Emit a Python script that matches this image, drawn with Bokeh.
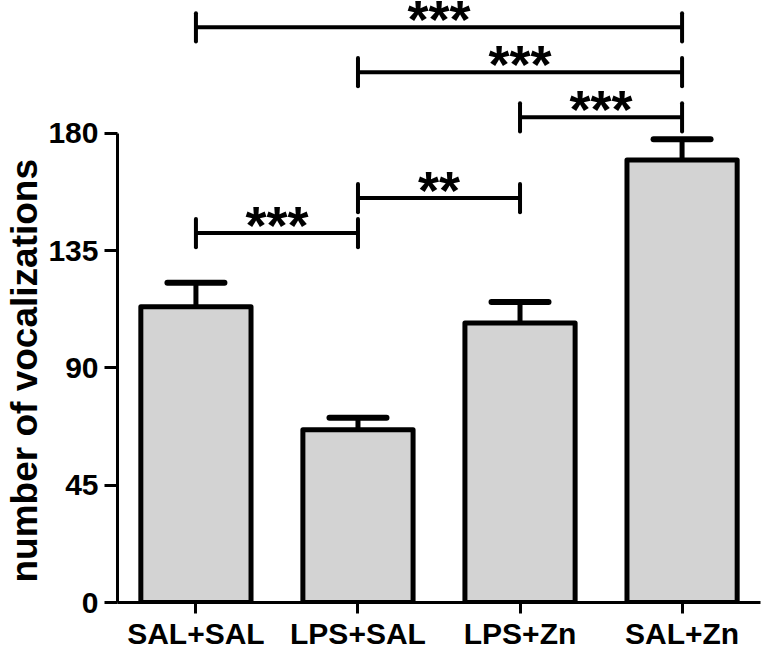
import math
from bokeh.plotting import figure
from bokeh.models import (FactorRange, Range1d, FixedTicker, Whisker,
                          TeeHead, ColumnDataSource, Title)
from bokeh.embed import file_html
from bokeh.resources import INLINE
from bokeh.core.properties import value

# ---- data ----
categories = ["SAL+SAL", "LPS+SAL", "LPS+Zn", "SAL+Zn"]
means = [113.4, 66.3, 107.2, 169.7]
sem = [9.2, 4.6, 8.1, 8.0]
y_ticks = [0, 45, 90, 135, 180]
y_label = "number of vocalizations"

bracket_left = ["SAL+SAL", "LPS+SAL", "LPS+SAL", "LPS+Zn", "SAL+SAL"]
bracket_right = ["LPS+SAL", "LPS+Zn", "SAL+Zn", "SAL+Zn", "SAL+Zn"]
bracket_y = [141.7, 155.1, 203.4, 186.1, 220.6]
bracket_text = ["***", "**", "***", "***", "***"]

FONT = "Liberation Sans"
TICK_HALF = 5.4
Y_END = 230.9

p = figure(width=765, height=652,
           x_range=FactorRange(factors=categories, range_padding=-0.016,
                               range_padding_units="absolute"),
           y_range=Range1d(0, Y_END),
           output_backend="svg", toolbar_location=None,
           min_border_left=116, min_border_right=5,
           min_border_top=0, min_border_bottom=49)
p.outline_line_color = None
p.xgrid.visible = False
p.ygrid.visible = False
p.background_fill_color = "white"
p.border_fill_color = "white"

# bars
src = ColumnDataSource(dict(cats=categories, means=means,
                            upper=[m + s for m, s in zip(means, sem)]))
p.vbar(x="cats", top="means", width=0.68, source=src,
       fill_color="#d3d3d3", line_color="black", line_width=5,
       line_join="round")

# error bars (upper only)
w = Whisker(source=src, base="cats", upper="upper", lower="means",
            dimension="height", line_width=5, line_color="black",
            upper_head=TeeHead(size=57, line_width=6, line_color="black",
                               line_cap="round"),
            lower_head=None, level="overlay")
p.add_layout(w)

# significance brackets
bsrc = ColumnDataSource(dict(
    left=bracket_left, right=bracket_right, y=bracket_y,
    ylo=[v - TICK_HALF for v in bracket_y],
    yhi=[v + TICK_HALF for v in bracket_y],
    text=bracket_text,
    xc=[(categories.index(a) + categories.index(b)) / 2 + 0.5
        for a, b in zip(bracket_left, bracket_right)],
))
p.segment(x0="left", y0="y", x1="right", y1="y", source=bsrc,
          line_color="black", line_width=4)
p.segment(x0="left", y0="ylo", x1="left", y1="yhi", source=bsrc,
          line_color="black", line_width=4, line_cap="round")
p.segment(x0="right", y0="ylo", x1="right", y1="yhi", source=bsrc,
          line_color="black", line_width=4, line_cap="round")
p.text(x="xc", y="y", text="text", source=bsrc, text_align="center",
       text_baseline="alphabetic", y_offset=-8,
       text_font=value(FONT), text_font_style="bold",
       text_font_size="54px", text_color="black")

# axes
for ax in (p.xaxis[0], p.yaxis[0]):
    ax.axis_line_width = 3
    ax.axis_line_color = "black"
    ax.major_tick_line_width = 3
    ax.major_tick_line_color = "black"
    ax.major_tick_in = 0
    ax.minor_tick_line_color = None
    ax.major_label_text_font = FONT
    ax.major_label_text_font_style = "bold"
    ax.major_label_text_color = "black"

p.xaxis.major_tick_out = 11
p.xaxis.major_label_standoff = 3
p.xaxis.major_label_text_font_size = "30px"

p.yaxis.ticker = FixedTicker(ticks=y_ticks)
p.yaxis.bounds = (0, 180)
p.yaxis.major_tick_out = 13
p.yaxis.major_label_standoff = 6
p.yaxis.major_label_text_font_size = "30px"

# y-axis title, aligned to the 0-180 extent of the axis
p.add_layout(Title(text=y_label, align="left", offset=20, standoff=2,
                   text_font=FONT, text_font_style="bold",
                   text_font_size="37px", text_color="black"), "left")

open("out.html", "w").write(file_html(p, INLINE))
